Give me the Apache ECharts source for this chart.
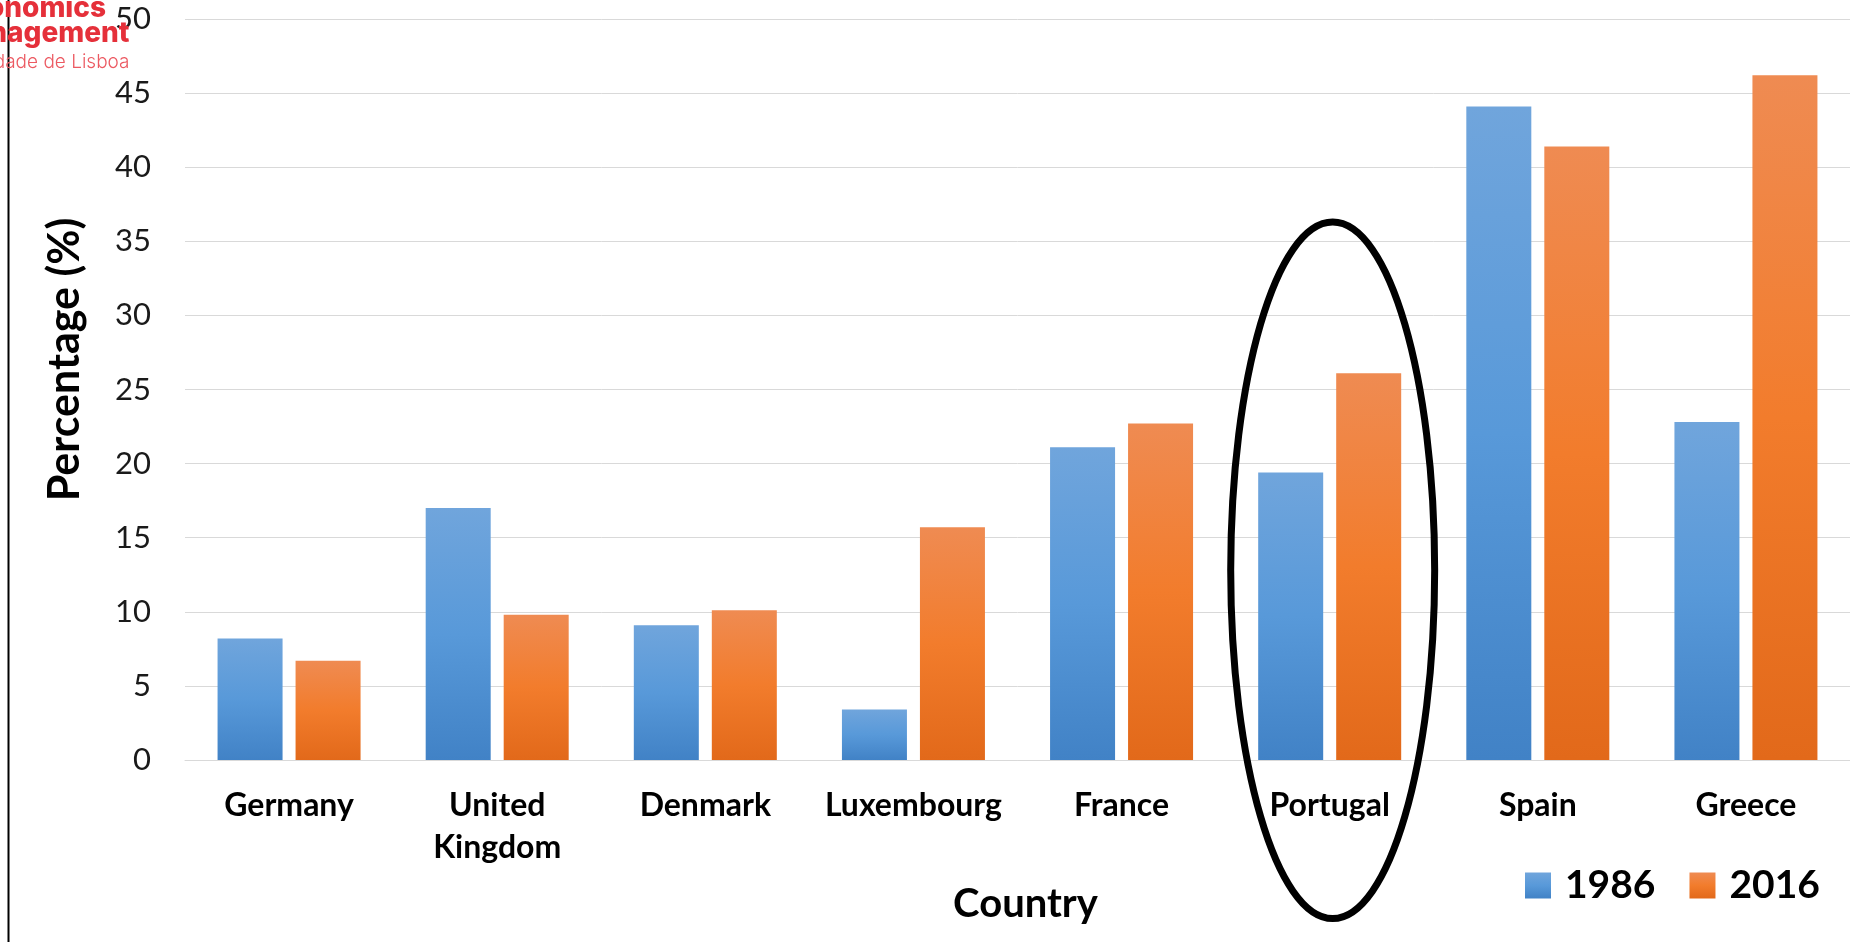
<!DOCTYPE html>
<html>
<head>
<meta charset="utf-8">
<script src="https://cdn.jsdelivr.net/npm/echarts@6/dist/echarts.min.js"></script>
<style>
  html, body { margin: 0; padding: 0; background: #ffffff; }
  #main { width: 1850px; height: 942px; }
</style>
</head>
<body>
<div id="main"></div>
<script>
// Share of the population (%) by country, 1986 vs 2016
const countries = ['Germany', 'United Kingdom', 'Denmark', 'Luxembourg', 'France', 'Portugal', 'Spain', 'Greece'];
const values1986 = [8.2, 17.0, 9.1, 3.4, 21.1, 19.4, 44.1, 22.8];
const values2016 = [6.7, 9.8, 10.1, 15.7, 22.7, 26.1, 41.4, 46.2];
const yTicks = { min: 0, max: 50, interval: 5 };
const highlighted = 'Portugal';

const FONT = 'Lato, "Open Sans", sans-serif';

function vGrad(top, mid, bottom) {
  return new echarts.graphic.LinearGradient(0, 0, 0, 1, [
    { offset: 0, color: top },
    { offset: 0.5, color: mid },
    { offset: 1, color: bottom }
  ]);
}
const blueFill = vGrad('#70A5DC', '#5899D9', '#4182C6');
const orangeFill = vGrad('#EF8B52', '#F27C2C', '#E2691A');

const chart = echarts.init(document.getElementById('main'), null, { renderer: 'canvas' });

chart.setOption({
  animation: false,
  backgroundColor: '#ffffff',
  textStyle: { fontFamily: FONT },
  grid: { left: 185, top: 19, width: 1678, bottom: 182 },
  legend: {
    left: 1520,
    top: 861,
    itemWidth: 26,
    itemHeight: 26,
    itemGap: 34,
    icon: 'rect',
    selectedMode: false,
    textStyle: {
      fontFamily: FONT,
      fontSize: 39,
      fontWeight: 'bold',
      color: '#000000',
      lineHeight: 26,
      padding: [0, 0, 0, 9]
    },
    data: ['1986', '2016']
  },
  xAxis: {
    type: 'category',
    data: countries,
    axisTick: { show: false },
    axisLine: { show: true, lineStyle: { color: '#D9D9D9', width: 1 } },
    axisLabel: {
      interval: 0,
      margin: 25,
      fontFamily: FONT,
      fontSize: 32,
      fontWeight: 'bold',
      color: '#000000',
      lineHeight: 42,
      formatter: v => v.replace(' ', '\n')
    },
    name: 'Country',
    nameLocation: 'middle',
    nameGap: 124,
    nameTextStyle: {
      fontFamily: FONT,
      fontSize: 40,
      fontWeight: 'bold',
      color: '#000000',
      lineHeight: 40,
      padding: [0, 0, 0, 16]
    }
  },
  yAxis: {
    type: 'value',
    min: yTicks.min,
    max: yTicks.max,
    interval: yTicks.interval,
    axisLine: { show: false },
    axisTick: { show: false },
    splitLine: { lineStyle: { color: '#D9D9D9', width: 1 } },
    axisLabel: {
      margin: 34,
      fontFamily: FONT,
      fontSize: 31,
      color: '#1a1a1a'
    },
    name: 'Percentage (%)',
    nameLocation: 'middle',
    nameRotate: 90,
    nameGap: 98,
    nameTextStyle: {
      fontFamily: FONT,
      fontSize: 43,
      fontWeight: 'bold',
      color: '#000000',
      lineHeight: 43,
      padding: [0, 0, 0, 60]
    }
  },
  series: [
    {
      name: '1986',
      type: 'bar',
      data: values1986,
      barWidth: 65,
      barGap: '20%',
      itemStyle: { color: blueFill }
    },
    {
      name: '2016',
      type: 'bar',
      data: values2016,
      barWidth: 65,
      barGap: '20%',
      itemStyle: { color: orangeFill }
    }
  ]
});

// Highlight ring around one country, placed through the chart's own axes
const idx = countries.indexOf(highlighted);
const center = chart.convertToPixel({ gridIndex: 0 }, [idx, 12.7]);
const nextCenter = chart.convertToPixel({ gridIndex: 0 }, [idx + 1, 12.7]);
const topY = chart.convertToPixel({ yAxisIndex: 0 }, 36.3);
const bottomY = chart.convertToPixel({ yAxisIndex: 0 }, -10.7);
const bandWidth = nextCenter[0] - center[0];

chart.setOption({
  graphic: [
    {
      id: 'frame-left',
      type: 'line',
      shape: { x1: 8.5, y1: 0, x2: 8.5, y2: 942 },
      style: { stroke: '#000000', lineWidth: 2 },
      z: 10
    },
    {
      id: 'logo-1',
      type: 'text',
      x: 106, y: 9,
      style: {
        text: 'Economics',
        align: 'right',
        verticalAlign: 'middle',
        font: '800 28px Inter, "Noto Sans", sans-serif',
        fill: '#E5303A'
      },
      z: 10
    },
    {
      id: 'logo-2',
      type: 'text',
      x: 129.5, y: 34,
      style: {
        text: 'Management',
        align: 'right',
        verticalAlign: 'middle',
        font: '800 28px Inter, "Noto Sans", sans-serif',
        fill: '#E5303A'
      },
      z: 10
    },
    {
      id: 'logo-3',
      type: 'text',
      x: 129.5, y: 62,
      style: {
        text: 'Universidade de Lisboa',
        align: 'right',
        verticalAlign: 'middle',
        font: '300 19px Inter, "Noto Sans", sans-serif',
        fill: '#EC5A62'
      },
      z: 10
    },
    {
      id: 'highlight-ring',
      type: 'ellipse',
      shape: {
        cx: center[0] + 3,
        cy: (topY + bottomY) / 2,
        rx: bandWidth * 0.49,
        ry: (bottomY - topY) / 2
      },
      style: { fill: null, stroke: '#000000', lineWidth: 7 },
      z: 20
    }
  ]
});
</script>
</body>
</html>
